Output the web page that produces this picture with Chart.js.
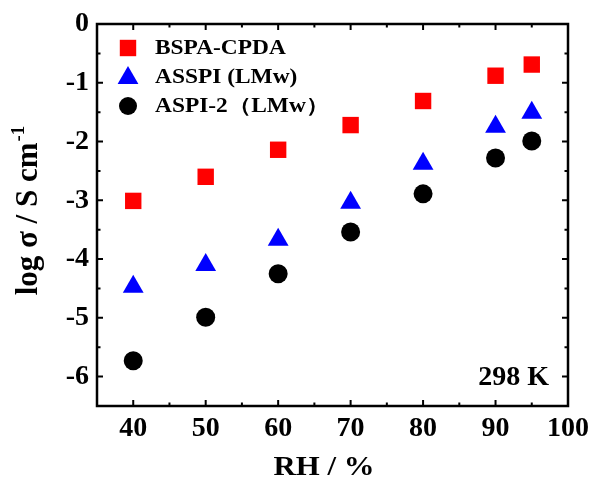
<!DOCTYPE html>
<html lang="en">
<head>
<meta charset="UTF-8">
<title>log sigma vs RH</title>
<script src="https://cdn.jsdelivr.net/npm/chart.js@4.4.0/dist/chart.umd.min.js"></script>
<style>
  html, body { margin: 0; padding: 0; background: #fff; }
  #wrap { width: 590px; height: 480px; }
</style>
</head>
<body>
<div id="wrap"><canvas id="myChart" width="590" height="480"></canvas></div>
<script>
// data
const rh = [40, 50, 60, 70, 80, 90, 95];
const bspaCpda = [-3.01, -2.60, -2.14, -1.72, -1.31, -0.88, -0.69];
const asspi = [-4.47, -4.10, -3.67, -3.04, -2.38, -1.75, -1.51];
const aspi2 = [-5.73, -4.99, -4.25, -3.54, -2.89, -2.28, -1.99];
const seriesNames = ['BSPA-CPDA', 'ASSPI (LMw)', 'ASPI-2（LMw）'];
const xTicks = [40, 50, 60, 70, 80, 90, 100];
const yTicks = [0, -1, -2, -3, -4, -5, -6];

const serif = '"Liberation Serif", "Times New Roman", serif';

function pts(ys) { return rh.map((x, i) => ({ x: x, y: ys[i] })); }

function marker(ctx, style, r, x, y, color) {
  ctx.save();
  ctx.fillStyle = color;
  ctx.beginPath();
  if (style === 'rect') {
    const s = r / Math.SQRT2;
    ctx.rect(x - s, y - s, 2 * s, 2 * s);
  } else if (style === 'triangle') {
    ctx.moveTo(x, y - r);
    ctx.lineTo(x + r * Math.sin(2 * Math.PI / 3), y + r / 2);
    ctx.lineTo(x - r * Math.sin(2 * Math.PI / 3), y + r / 2);
    ctx.closePath();
  } else {
    ctx.arc(x, y, r, 0, Math.PI * 2);
  }
  ctx.fill();
  ctx.restore();
}

// text drawn a little wider than the font, like the original
function wideText(ctx, txt, x, y, sx) {
  ctx.save();
  ctx.translate(x, y);
  ctx.scale(sx, 1);
  ctx.fillText(txt, 0, 0);
  ctx.restore();
}

// box, inward ticks on all four sides, titles, legend, label
const frame = {
  id: 'frame',
  afterDraw(chart) {
    const ctx = chart.ctx;
    const a = chart.chartArea;
    const xs = chart.scales.x, ys = chart.scales.y;
    ctx.save();
    ctx.strokeStyle = '#000';
    ctx.lineWidth = 2.5;
    ctx.strokeRect(a.left, a.top, a.right - a.left, a.bottom - a.top);
    ctx.lineWidth = 2;
    ctx.beginPath();
    for (let v = 40; v <= 100; v += 5) {
      const px = xs.getPixelForValue(v);
      const len = v % 10 === 0 ? 6 : 3.5;
      ctx.moveTo(px, a.bottom); ctx.lineTo(px, a.bottom - len);
      ctx.moveTo(px, a.top); ctx.lineTo(px, a.top + len);
    }
    for (let v = -6; v <= 0; v += 0.5) {
      const py = ys.getPixelForValue(v);
      const len = Number.isInteger(v) ? 6 : 3.5;
      ctx.moveTo(a.left, py); ctx.lineTo(a.left + len, py);
      ctx.moveTo(a.right, py); ctx.lineTo(a.right - len, py);
    }
    ctx.stroke();

    ctx.fillStyle = '#000';
    // x title
    ctx.font = 'bold 28px ' + serif;
    ctx.textAlign = 'left';
    ctx.textBaseline = 'alphabetic';
    const xt = 'RH / %';
    const xtw = ctx.measureText(xt).width * 1.1;
    wideText(ctx, xt, 324 - xtw / 2, 475, 1.1);

    // y title with superscript
    ctx.save();
    ctx.translate(37, 211);
    ctx.rotate(-Math.PI / 2);
    const main = 'log σ / S cm';
    ctx.font = 'bold 31px ' + serif;
    const w1 = ctx.measureText(main).width;
    ctx.font = 'bold 19px ' + serif;
    const w2 = ctx.measureText('-1').width;
    const start = -(w1 + w2) / 2;
    ctx.textAlign = 'left';
    ctx.font = 'bold 31px ' + serif;
    ctx.fillText(main, start, 0);
    ctx.font = 'bold 19px ' + serif;
    ctx.fillText('-1', start + w1 + 1, -13);
    ctx.restore();

    // legend
    const ds = chart.data.datasets;
    ctx.font = 'bold 20px ' + serif;
    ctx.textAlign = 'left';
    ctx.textBaseline = 'middle';
    const rows = [48, 77, 106];
    ds.forEach((d, i) => {
      const cy = rows[i];
      const my = d.pointStyle === 'triangle' ? cy + 1 : cy;
      const r = d.pointStyle === 'circle' ? 9 : d.pointRadius;
      marker(ctx, d.pointStyle, r, 128, my, d.backgroundColor);
      ctx.fillStyle = '#000';
      wideText(ctx, d.label, 155, cy + 1, 1.17);
    });

    // temperature label
    ctx.font = 'bold 28px ' + serif;
    ctx.textAlign = 'right';
    ctx.textBaseline = 'alphabetic';
    ctx.fillText('298 K', 549, 385);
    ctx.restore();
  }
};

const ctx = document.getElementById('myChart').getContext('2d');
const myChart = new Chart(ctx, {
  type: 'scatter',
  data: {
    datasets: [
      { label: seriesNames[0], data: pts(bspaCpda), pointStyle: 'rect', pointRadius: 11.6,
        backgroundColor: '#ff0000', borderWidth: 0 },
      { label: seriesNames[1], data: pts(asspi), pointStyle: 'triangle', pointRadius: 12,
        backgroundColor: '#0000ff', borderWidth: 0 },
      { label: seriesNames[2], data: pts(aspi2), pointStyle: 'circle', pointRadius: 9.5,
        backgroundColor: '#000000', borderWidth: 0 }
    ]
  },
  options: {
    responsive: false,
    animation: false,
    layout: { padding: { left: 0, right: 22, top: 24, bottom: 0 } },
    plugins: { legend: { display: false }, tooltip: { enabled: false } },
    scales: {
      x: {
        type: 'linear', min: 35, max: 100,
        grid: { display: false, drawTicks: false }, border: { display: false },
        afterBuildTicks: s => { s.ticks = xTicks.map(v => ({ value: v })); },
        afterFit: s => { s.height = 74; s.paddingLeft = 0; s.paddingRight = 0; },
        ticks: { color: '#000', padding: 6, maxRotation: 0, autoSkip: false,
          font: { family: serif, size: 28, weight: 'bold' } }
      },
      y: {
        type: 'linear', min: -6.5, max: 0,
        grid: { display: false, drawTicks: false }, border: { display: false },
        afterBuildTicks: s => { s.ticks = yTicks.map(v => ({ value: v })); },
        afterFit: s => { s.width = 97; s.paddingTop = 0; s.paddingBottom = 0; },
        ticks: { color: '#000', padding: 8, autoSkip: false,
          font: { family: serif, size: 28, weight: 'bold' } }
      }
    }
  },
  plugins: [frame]
});
</script>
</body>
</html>
